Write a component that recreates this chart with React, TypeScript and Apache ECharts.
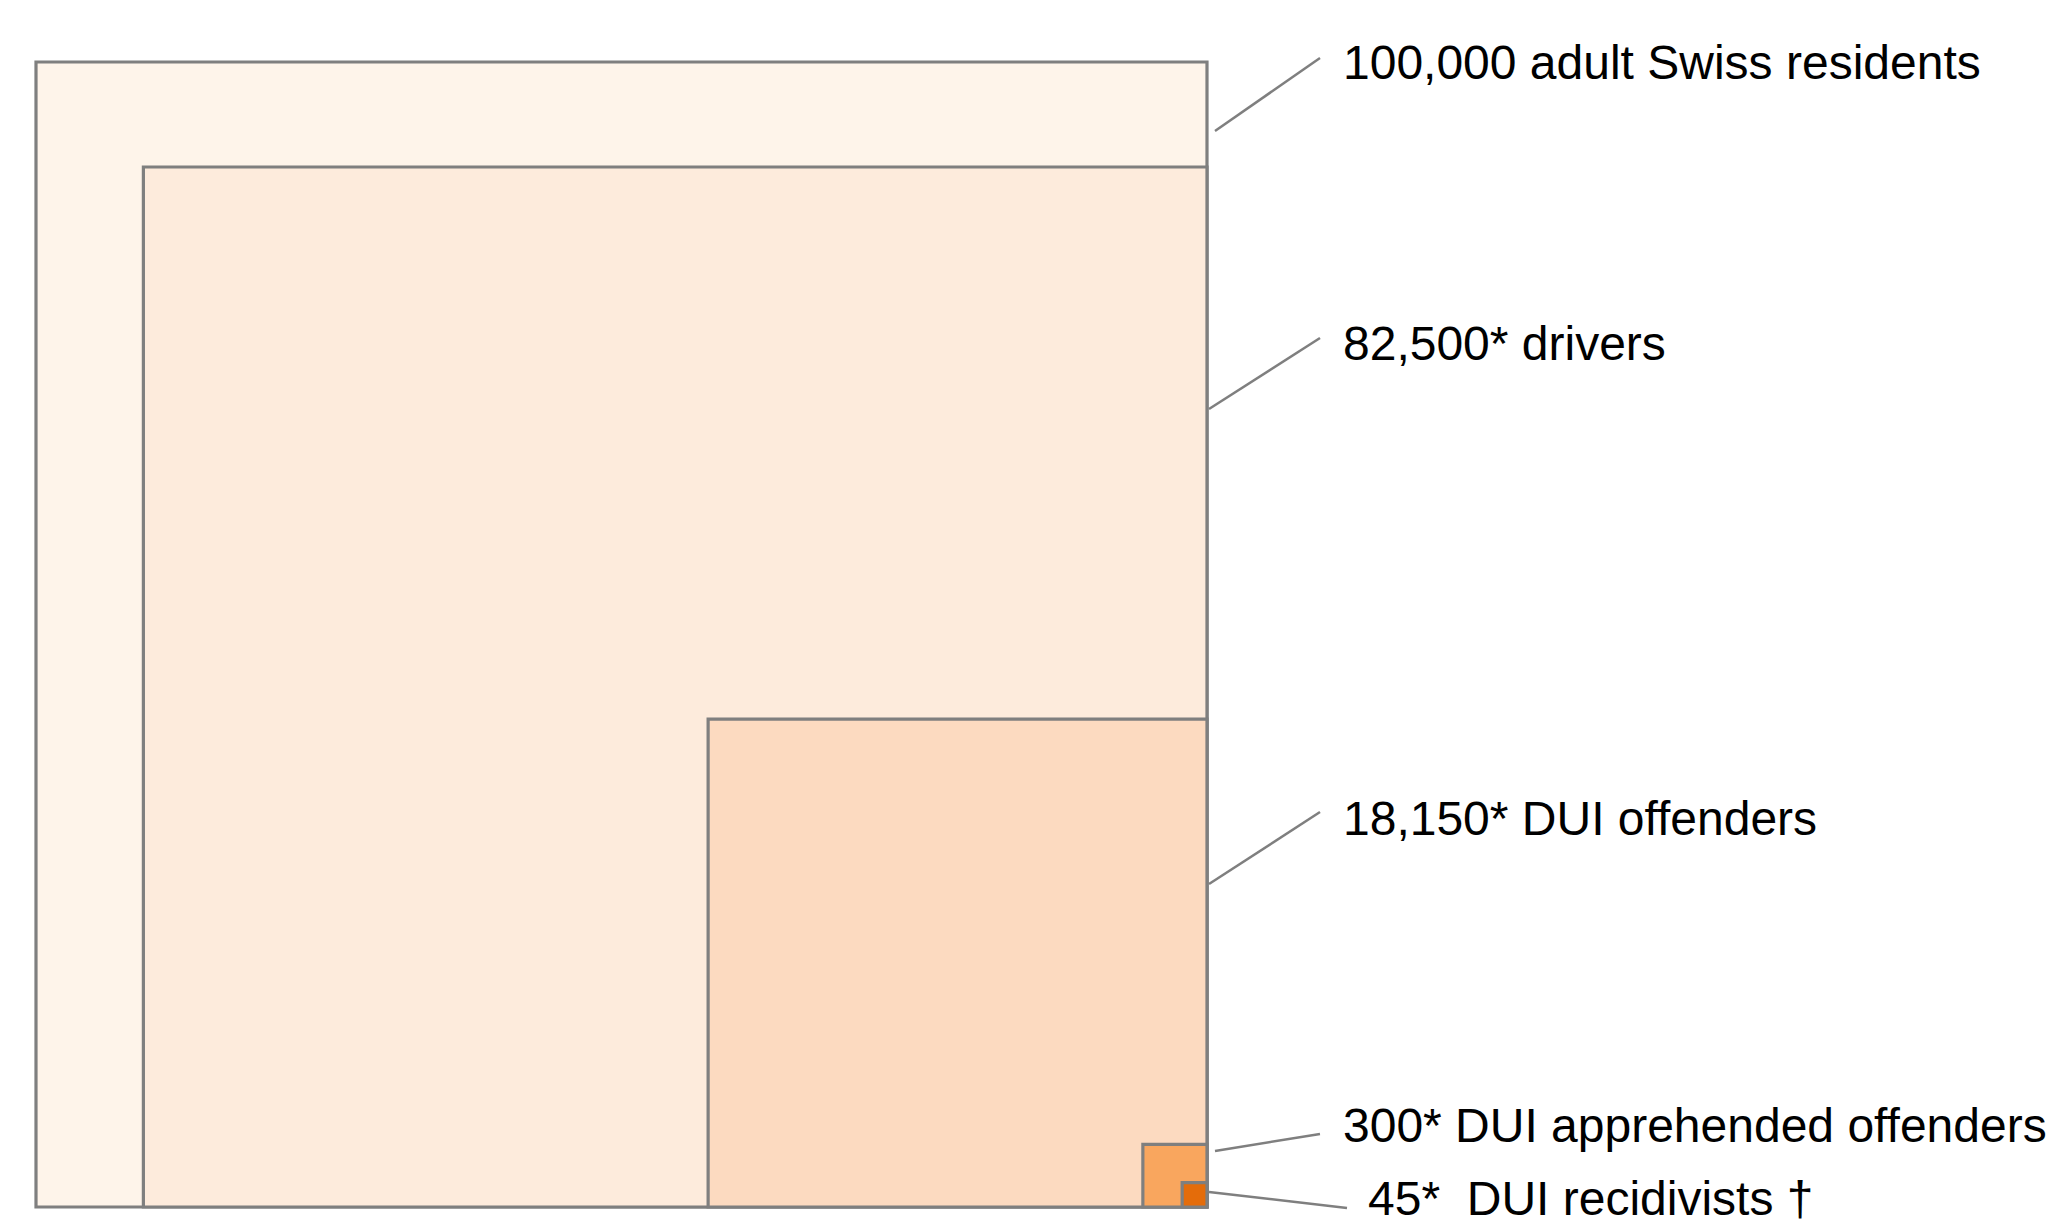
import React, { useEffect, useRef } from "react";
import * as echarts from "echarts";

const groups = [
  "100,000 adult Swiss residents",
  "82,500* drivers",
  "18,150* DUI offenders",
  "300* DUI apprehended offenders",
  "45*  DUI recidivists †",
];
const counts = [100000, 82500, 18150, 300, 45];
const fills = ["#FEF4EA", "#FDEBDC", "#FCDAC0", "#F9A65E", "#E46C0A"];

export default function App() {
  const ref = useRef<HTMLDivElement>(null);
  useEffect(() => {
    if (!ref.current) return;
    const chart = echarts.init(ref.current, null, { renderer: "svg" });
    const total = counts[0];
    const font = "'Liberation Sans', Arial, sans-serif";
    const labelPos = [
      { x: 1343, y: 62, l: [1215, 131, 1320, 58] },
      { x: 1343, y: 343, l: [1209, 409, 1320, 338] },
      { x: 1343, y: 818, l: [1209, 884, 1320, 812] },
      { x: 1343, y: 1125, l: [1215, 1151, 1320, 1134] },
      { x: 1368, y: 1198, l: [1209, 1192, 1347, 1208] },
    ];
    const graphics: any[] = [];
    groups.forEach((g, i) => {
      const p = labelPos[i];
      graphics.push({
        type: "line",
        shape: { x1: p.l[0], y1: p.l[1], x2: p.l[2], y2: p.l[3] },
        style: { stroke: "#7F7F7F", lineWidth: 2.5 },
        z: 10,
      });
      graphics.push({
        type: "text",
        x: p.x,
        y: p.y,
        style: {
          text: g,
          fontFamily: font,
          fontSize: 48,
          fill: "#000000",
          textVerticalAlign: "middle",
          textAlign: "left",
        },
        z: 10,
      });
    });
    chart.setOption({
      animation: false,
      grid: { left: 36, top: 62, width: 1171, height: 1145 },
      xAxis: { type: "value", min: 0, max: 1, show: false },
      yAxis: { type: "value", min: 0, max: 1, show: false },
      series: [
        {
          type: "custom",
          data: counts.map((c, i) => [c, i]),
          renderItem: (params: any, api: any) => {
            const v = api.value(0);
            const idx = api.value(1);
            const s = Math.sqrt(v / total);
            const tl = api.coord([1 - s, s]);
            const br = api.coord([1, 0]);
            return {
              type: "rect",
              shape: { x: tl[0], y: tl[1], width: br[0] - tl[0], height: br[1] - tl[1] },
              style: { fill: fills[idx], stroke: "#7F7F7F", lineWidth: 3.2 },
              z2: idx,
            };
          },
        },
      ],
      graphic: graphics,
    });
    return () => chart.dispose();
  }, []);
  return (
    <div
      ref={ref}
      style={{ position: "fixed", left: 0, top: 0, width: "100vw", height: "100vh", background: "#fff" }}
    />
  );
}
